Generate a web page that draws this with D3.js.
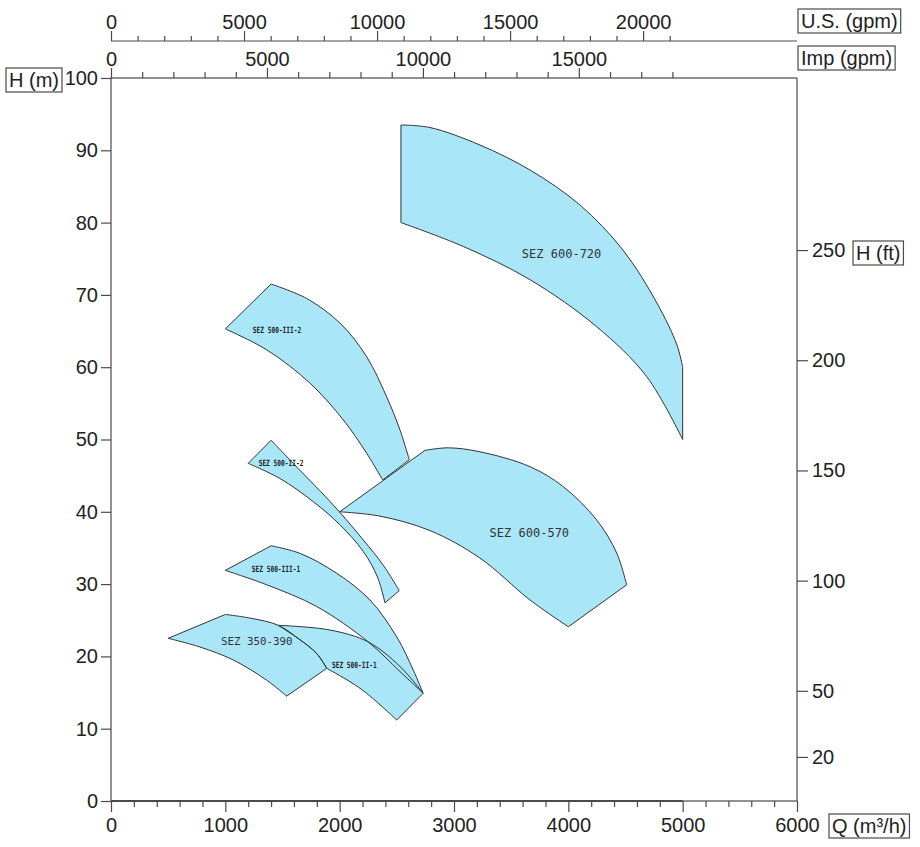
<!DOCTYPE html>
<html><head><meta charset="utf-8">
<script src="https://cdn.jsdelivr.net/npm/d3@7/dist/d3.min.js"></script>
<style>
body{margin:0;background:#fff;}
svg text{font-family:"Liberation Sans",Arial,Helvetica,sans-serif;}
</style></head><body>
<svg id="chart" width="920" height="847"></svg>
<script>
// ---------- data ----------
const qTicks = [0,1000,2000,3000,4000,5000,6000];
const qMinor = d3.range(0,6001,200).filter(v=>v%1000!==0);
const hTicks = [0,10,20,30,40,50,60,70,80,90,100];
const ftTicks = [20,50,100,150,200,250];
const usTicks = [0,5000,10000,15000,20000];
const usMinor = d3.range(1000,21001,1000).filter(v=>v%5000!==0);
const impTicks = [0,5000,10000,15000];
const impMinor = d3.range(1000,18001,1000).filter(v=>v%5000!==0);
const M3H_PER_USGPM = 0.2327;   // as drawn on the reference scale
const M3H_PER_IMPGPM = 0.2728;
const FT_PER_M = 3.2808;

// each shape: list of edges, each edge a list of [Q (m3/h), H (m)]
const sez600_720 = [
  [[2536,93.5],[2790,93.15],[3227,90.73],[3665,87.27],[4102,82.43],[4478,76.2],[4775,68.88],[4950,63.07],[5000,60]],
  [[5000,60],[5000,50]],
  [[5000,50],[4685,58.7],[4248,65.6],[3665,72.1],[3081,76.7],[2536,80]]
];
const sez600_570 = [
  [[2000,40],[2746,48.5]],
  [[2746,48.5],[2950,48.85],[3227,48.3],[3665,46.24],[3956,43.47],[4248,38.87],[4423,34.3],[4510,29.9]],
  [[4510,29.9],[4000,24.1]],
  [[4000,24.1],[3665,27.8],[3227,33.6],[2790,37.4],[2353,39.4],[2000,40]]
];
const sez500_III_2 = [
  [[1000,65.3],[1400,71.5]],
  [[1400,71.5],[1712,69.5],[2003,66.1],[2236,61.45],[2411,55.9],[2528,51.3],[2609,47.2]],
  [[2609,47.2],[2376,44.4]],
  [[2376,44.4],[2236,48.1],[2032,52.7],[1740,57.8],[1362,62.4],[1000,65.3]]
];
const sez500_II_2 = [
  [[1200,46.7],[1400,49.9]],
  [[1400,49.9],[1624,46.2],[1828,42.9],[2003,39.9],[2207,36.1],[2382,32.6],[2521,29.1]],
  [[2521,29.1],[2396,27.4]],
  [[2396,27.4],[2330,31.0],[2207,34.5],[2003,38.2],[1769,41.4],[1478,44.6],[1200,46.7]]
];
const sez500_III_1 = [
  [[1000,31.9],[1400,35.3]],
  [[1400,35.3],[1653,34.25],[1974,31.5],[2265,27.8],[2499,22.7],[2644,18.1],[2730,14.9]],
  [[2730,14.9],[2528,17.9],[2250,22.0],[1799,26.9],[1362,29.9],[1000,31.9]]
];
const sez500_II_1 = [
  [[1463,24.3],[1915,23.65],[2250,22.0],[2528,18.6],[2730,14.9]],
  [[2730,14.9],[2499,11.2]],
  [[2499,11.2],[2236,14.9],[2090,16.5],[1887,18.35]],
  [[1887,18.35],[1799,20.4],[1653,22.3],[1463,24.3]]
];
const sez350_390 = [
  [[500,22.5],[1000,25.8]],
  [[1000,25.8],[1216,25.3],[1463,24.3],[1653,22.3],[1799,20.4],[1887,18.35]],
  [[1887,18.35],[1536,14.5]],
  [[1536,14.5],[1362,16.7],[1070,19.5],[778,21.3],[500,22.5]]
];
const shapes = [sez500_III_2, sez600_570, sez600_720, sez500_II_2, sez500_III_1, sez350_390, sez500_II_1];

const labelNames = ["SEZ 600-720","SEZ 600-570","SEZ 500-III-2","SEZ 500-II-2","SEZ 500-III-1","SEZ 350-390","SEZ 500-II-1"];
const labelQ = [3941,3659,1452,1487,1443,1274,2128];
const labelH = [75.7,37.1,65.15,46.8,32.1,22.0,18.85];

// ---------- layout ----------
const L=111, R=797, T=78, B=801;
const AX="#4a4a4a", TX="#222";
const svg = d3.select("#chart");
const x = d3.scaleLinear().domain([0,6000]).range([L,R]);
const y = d3.scaleLinear().domain([0,100]).range([B,T]);
const yFt = d3.scaleLinear().domain([0,100*FT_PER_M]).range([B,T]);
const xUS = d3.scaleLinear().domain([0,6000/M3H_PER_USGPM]).range([L,R]);
const xImp = d3.scaleLinear().domain([0,6000/M3H_PER_IMPGPM]).range([L,R]);

function shapePath(edges){
  let d="";
  edges.forEach((e,i)=>{
    const gen=d3.line().x(p=>x(p[0])).y(p=>y(p[1]))
      .curve(e.length>2?d3.curveCatmullRom.alpha(0.5):d3.curveLinear);
    let s=gen(e);
    if(i>0) s="L"+s.slice(1);
    d+=s;
  });
  return d+"Z";
}

// shapes: fills first, then outlines
const gS=svg.append("g");
gS.selectAll("path.fill").data(shapes).join("path").attr("class","fill")
  .attr("d",shapePath).attr("fill","#a8e6f8").attr("stroke","none");
gS.selectAll("path.line").data(shapes).join("path").attr("class","line")
  .attr("d",shapePath).attr("fill","none").attr("stroke","#333").attr("stroke-width",1).attr("stroke-linejoin","round");

// labels
const small = n => /500-/.test(n);
svg.append("g").selectAll("text").data(labelNames).join("text")
  .attr("transform",(d,i)=>`translate(${x(labelQ[i])},${y(labelH[i])})`+(small(d)?" scale(0.72,1)":""))
  .attr("text-anchor","middle").attr("dominant-baseline","central")
  .style("font-family","'DejaVu Sans Mono',monospace")
  .style("font-size",d=>small(d)?"8.6px":(d==="SEZ 350-390"?"10.8px":"12px"))
  .style("font-weight",d=>small(d)?"bold":"normal")
  .attr("fill",d=>small(d)?"#222":"#333").text(d=>d);

// frame
svg.append("rect").attr("x",L).attr("y",T).attr("width",R-L).attr("height",B-T)
  .attr("fill","none").attr("stroke",AX).attr("stroke-width",1.2);
svg.append("line").attr("x1",x(0)).attr("x2",x(5000)).attr("y1",B).attr("y2",B)
  .attr("stroke",AX).attr("stroke-width",2);

function styleAxis(g,fs){
  g.select(".domain").remove();
  g.selectAll("line").attr("stroke",AX).attr("stroke-width",1.2);
  g.selectAll("text").attr("fill",TX).style("font-size",fs+"px").style("font-family","'Liberation Sans',Arial,sans-serif");
}
// bottom
styleAxis(svg.append("g").attr("transform",`translate(0,${B})`)
  .call(d3.axisBottom(x).tickValues(qTicks).tickSize(11).tickPadding(6).tickFormat(d3.format("d"))),20);
styleAxis(svg.append("g").attr("transform",`translate(0,${B})`)
  .call(d3.axisBottom(x).tickValues(qMinor).tickSize(6).tickFormat("")),20);
// left
styleAxis(svg.append("g").attr("transform",`translate(${L},0)`)
  .call(d3.axisLeft(y).tickValues(hTicks).tickSize(10).tickPadding(3)),20);
// right
styleAxis(svg.append("g").attr("transform",`translate(${R},0)`)
  .call(d3.axisRight(yFt).tickValues(ftTicks).tickSize(11).tickPadding(4)),20);
// top US
const US_Y=41;
svg.append("line").attr("x1",L).attr("x2",R).attr("y1",US_Y).attr("y2",US_Y).attr("stroke",AX).attr("stroke-width",1.2);
styleAxis(svg.append("g").attr("transform",`translate(0,${US_Y})`)
  .call(d3.axisTop(xUS).tickValues(usTicks).tickSize(10).tickPadding(2).tickFormat(d3.format("d"))),20);
styleAxis(svg.append("g").attr("transform",`translate(0,${US_Y})`)
  .call(d3.axisTop(xUS).tickValues(usMinor).tickSize(5).tickFormat("")),20);
// top Imp
styleAxis(svg.append("g").attr("transform",`translate(0,${T})`)
  .call(d3.axisTop(xImp).tickValues(impTicks).tickSize(10).tickPadding(2).tickFormat(d3.format("d"))),20);
styleAxis(svg.append("g").attr("transform",`translate(0,${T})`)
  .call(d3.axisTop(xImp).tickValues(impMinor).tickSize(6).tickFormat("")),20);

// boxed axis titles
function boxed(txt,tx,ty){
  const g=svg.append("g");
  const t=g.append("text").attr("x",tx).attr("y",ty).attr("dominant-baseline","central")
    .style("font-size","20px").attr("fill",TX).text(txt);
  const b=t.node().getBBox();
  g.insert("rect","text").attr("x",b.x-3).attr("y",b.y-1).attr("width",b.width+6).attr("height",b.height+2)
    .attr("fill","#fff").attr("stroke",AX).attr("stroke-width",1.2);
}
boxed("H (m)",9,80);
boxed("U.S. (gpm)",801,21);
boxed("Imp (gpm)",801,58);
boxed("H (ft)",856,253);
boxed("Q (m³/h)",832,826);
</script>
</body></html>
